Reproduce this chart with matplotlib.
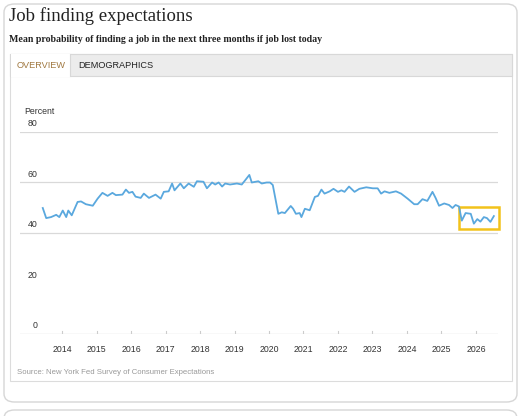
import matplotlib
matplotlib.use("Agg")
import matplotlib.pyplot as plt
from matplotlib.patches import FancyBboxPatch, Rectangle

years = [2013.44,2013.54,2013.68,2013.83,2013.92,2014.02,2014.12,2014.18,2014.28,2014.45,2014.55,2014.69,2014.89,
 2015.03,2015.17,2015.32,2015.46,2015.56,2015.75,2015.85,2015.94,2016.04,2016.13,2016.28,2016.37,2016.52,2016.71,
 2016.86,2016.95,2017.09,2017.19,2017.26,2017.43,2017.53,2017.67,2017.82,2017.91,2018.10,2018.20,2018.35,2018.44,
 2018.54,2018.64,2018.73,2018.87,2019.07,2019.21,2019.31,2019.43,2019.50,2019.69,2019.79,2019.93,2020.03,2020.11,
 2020.27,2020.37,2020.46,2020.63,2020.70,2020.78,2020.89,2020.94,2021.04,2021.18,2021.33,2021.42,2021.52,2021.61,
 2021.76,2021.87,2022.00,2022.10,2022.19,2022.32,2022.48,2022.62,2022.82,2023.01,2023.15,2023.25,2023.35,2023.49,
 2023.68,2023.83,2024.02,2024.21,2024.31,2024.45,2024.59,2024.74,2024.83,2024.93,2025.08,2025.22,2025.32,2025.41,
 2025.51,2025.59,2025.70,2025.85,2025.94,2026.04,2026.13,2026.23,2026.32,2026.42,2026.52]
values = [49.9,45.9,46.3,47.2,46.3,48.9,46.3,48.9,47.0,52.3,52.5,51.4,50.8,
 53.6,55.9,54.7,55.9,55.0,55.2,57.2,55.9,56.3,54.4,53.9,55.6,53.9,55.2,
 53.6,56.3,56.5,59.6,56.9,59.6,57.7,59.6,58.3,60.5,60.3,57.7,60.0,59.2,
 60.0,58.4,59.6,59.2,59.6,59.2,60.9,63.0,60.0,60.5,59.6,60.0,60.0,59.0,
 47.6,48.2,47.9,50.7,49.6,47.6,47.9,46.3,49.6,49.0,54.3,54.7,57.2,55.6,
 56.5,57.5,56.3,56.9,56.3,58.4,56.3,57.5,58.1,57.7,57.7,55.6,56.5,55.9,
 56.5,55.6,53.6,51.4,51.4,53.4,52.7,56.3,53.9,50.8,51.7,51.1,49.9,51.1,
 50.5,44.9,47.9,47.6,43.7,45.5,44.5,46.3,45.9,44.4,46.7]
tick_years = list(range(2014, 2027))
y_ticks = [0, 20, 40, 60, 80]
grid_vals = [40, 60, 80]
highlight = (2025.51, 2026.66, 41.4, 50.2)

W, H = 524, 416
fig = plt.figure(figsize=(W/100, H/100), dpi=100)
def fx(x): return x / W
def fy(y): return 1 - y / H

fig.patches.append(FancyBboxPatch((fx(4), fy(402)), fx(513), 398/H, boxstyle="round,pad=0,rounding_size=0.02",
    transform=fig.transFigure, fc="white", ec="#d6d6d6", lw=1))
fig.patches.append(FancyBboxPatch((fx(4), fy(430)), fx(513), 20/H, boxstyle="round,pad=0,rounding_size=0.02",
    transform=fig.transFigure, fc="white", ec="#d6d6d6", lw=1))
fig.patches.append(Rectangle((fx(10), fy(381)), fx(502), 327/H, transform=fig.transFigure, fc="white", ec="#dcdcdc", lw=0.8))
fig.patches.append(Rectangle((fx(10), fy(76)), fx(502), 22/H, transform=fig.transFigure, fc="#ececec", ec="#d8d8d8", lw=0.8))
fig.patches.append(Rectangle((fx(10.5), fy(77)), fx(59.5), 23/H, transform=fig.transFigure, fc="white", ec="none"))
fig.lines.append(plt.Line2D([fx(70), fx(70)], [fy(54), fy(76)], transform=fig.transFigure, color="#d8d8d8", lw=0.8))

fig.text(fx(9), fy(16), "Job finding expectations", fontsize=13.5, family="Liberation Serif", va="center", color="#222")
fig.text(fx(9), fy(39), "Mean probability of finding a job in the next three months if job lost today", fontsize=7.1,
         family="Liberation Serif", weight="bold", va="center", color="#222")
fig.text(fx(17), fy(65), "OVERVIEW", fontsize=6.6, color="#a07840", va="center", family="Liberation Sans")
fig.text(fx(78), fy(65), "DEMOGRAPHICS", fontsize=6.6, color="#222", va="center", family="Liberation Sans")
fig.text(fx(24), fy(111), "Percent", fontsize=6.3, color="#333", va="center", family="Liberation Sans")
fig.text(fx(17), fy(373), "Source: New York Fed Survey of Consumer Expectations", fontsize=5.6, color="#999",
         va="center", family="Liberation Sans")

ax = fig.add_axes([fx(20), fy(334), (498-20)/W, (334-132)/H])
ax.set_zorder(5)
ax.patch.set_alpha(0)
ax.set_xlim(2012.78, 2026.64)
ax.set_ylim(0, 80)
ax.axis("off")
ax.plot(years, values, color="#5aa8de", lw=1.3, clip_on=False)
for g in grid_vals:
    ax.axhline(g, color="#d9d9d9", lw=0.9, zorder=0)
ax.axhline(0, color="#cccccc", lw=0.9)
for v in y_ticks:
    ax.text(2013.01 if v else 2013.16, v + 1.5, str(v), fontsize=6.3, color="#333", va="bottom", family="Liberation Sans")
for t in tick_years:
    ax.plot([t, t], [0, 1.2], color="#cccccc", lw=0.8)
    ax.text(t, -4.5, str(t), fontsize=6.3, color="#333", ha="center", va="top", family="Liberation Sans")
x0, x1, y0, y1 = highlight
ax.add_patch(Rectangle((x0, y0), x1 - x0, y1 - y0, fill=False, ec="#f2c21b", lw=1.8, clip_on=False))

fig.savefig("out.png", dpi=100)
